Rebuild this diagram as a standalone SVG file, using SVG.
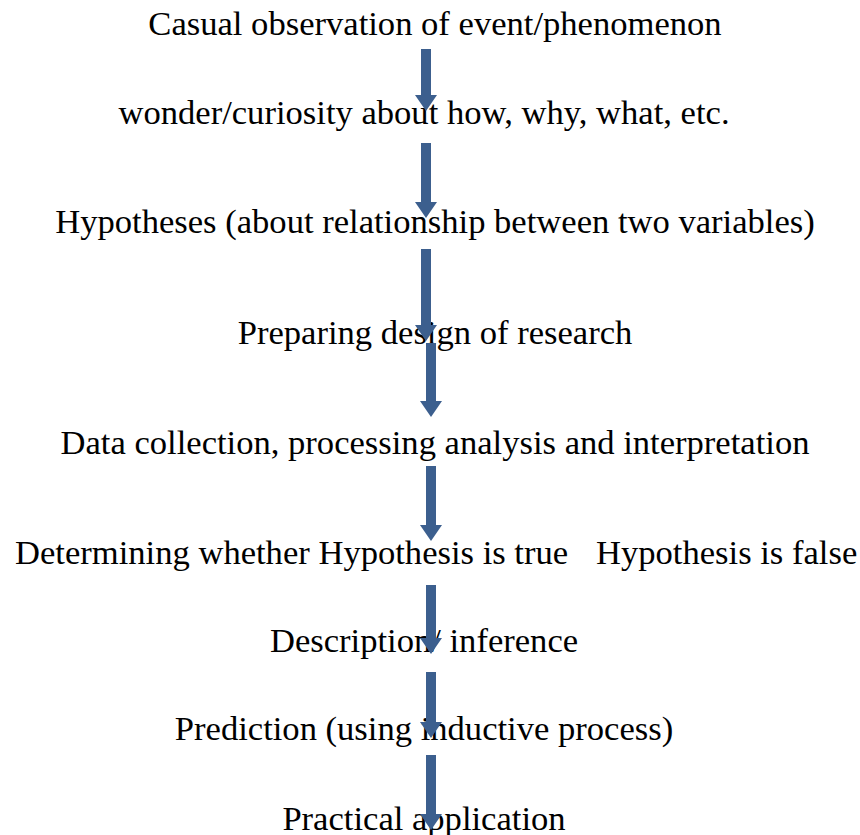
<svg xmlns="http://www.w3.org/2000/svg" width="860" height="835" viewBox="0 0 860 835">
<style>
text{font-family:"Liberation Serif","Times New Roman",serif;font-size:34.6px;fill:#000}
.c{text-anchor:middle}
.a{fill:#3c5f8e}
</style>
<rect width="860" height="835" fill="#fff"/>
<g id="n1"><text class="c" x="435" y="35">Casual observation of event/phenomenon</text></g>
<g id="n2"><text class="c" x="424" y="124">wonder/curiosity about how, why, what, etc.</text></g>
<g id="n3"><text class="c" x="435" y="233">Hypotheses (about relationship between two variables)</text></g>
<g id="n4"><text class="c" x="435" y="344">Preparing design of research</text></g>
<g id="n5"><text class="c" x="435" y="454">Data collection, processing analysis and interpretation</text></g>
<g id="n6"><text x="15" y="564">Determining whether Hypothesis is true</text></g>
<g id="n7"><text x="596" y="564">Hypothesis is false</text></g>
<g id="n8"><text class="c" x="424" y="652">Description/ inference</text></g>
<g id="n9"><text class="c" x="424" y="740">Prediction (using inductive process)</text></g>
<g id="n10"><text class="c" x="424" y="830">Practical application</text></g>
<g id="connectors">
<path class="a" d="M421,49 H431 V95 H437 L426,111 L415,95 H421 Z"/>
<path class="a" d="M421,143 H431 V202 H437 L426,218 L415,202 H421 Z"/>
<path class="a" d="M421,249 H431 V325 H437 L426,341 L415,325 H421 Z"/>
<path class="a" d="M426,343 H436 V401 H442 L431,417 L420,401 H426 Z"/>
<path class="a" d="M426,466 H436 V525 H442 L431,541 L420,525 H426 Z"/>
<path class="a" d="M426,585 H436 V638 H442 L431,654 L420,638 H426 Z"/>
<path class="a" d="M426,672 H436 V722 H442 L431,738 L420,722 H426 Z"/>
<path class="a" d="M426,755 H436 V814 H442 L431,830 L420,814 H426 Z"/>
</g>
</svg>
